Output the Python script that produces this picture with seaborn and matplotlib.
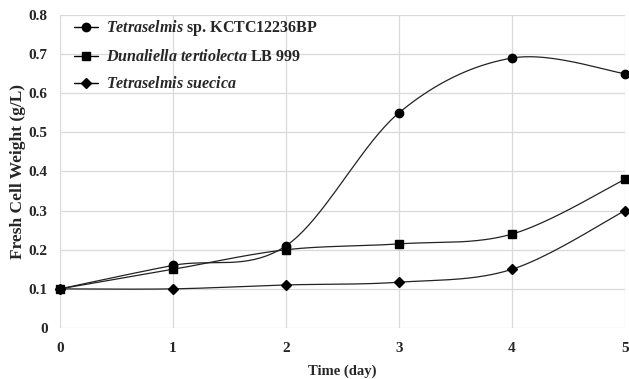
import numpy as np
import pandas as pd
import seaborn as sns
import matplotlib.pyplot as plt
from matplotlib.lines import Line2D

days = [0, 1, 2, 3, 4, 5]
tetra_kctc = [0.10, 0.16, 0.21, 0.55, 0.69, 0.65]
dunaliella = [0.10, 0.15, 0.20, 0.215, 0.24, 0.38]
tetra_suecica = [0.10, 0.10, 0.11, 0.117, 0.15, 0.30]

labels = [r'$\it{Tetraselmis}$ sp. KCTC12236BP',
          r'$\it{Dunaliella\ tertiolecta}$ LB 999',
          r'$\it{Tetraselmis\ suecica}$']
markers = ['o', 's', 'D']
sizes = [6, 5.5, 5.5]


def smooth(x, y, n=40):
    # Excel-style smoothed line: cubic Bezier with Catmull-Rom control points
    x = np.asarray(x, float)
    y = np.asarray(y, float)
    px = np.concatenate([[x[0]], x, [x[-1]]])
    py = np.concatenate([[y[0]], y, [y[-1]]])
    xs, ys = [], []
    t = np.linspace(0, 1, n)
    for i in range(1, len(px) - 2):
        p0 = np.array([px[i], py[i]])
        p3 = np.array([px[i + 1], py[i + 1]])
        p1 = p0 + (np.array([px[i + 1], py[i + 1]]) - np.array([px[i - 1], py[i - 1]])) / 6
        p2 = p3 - (np.array([px[i + 2], py[i + 2]]) - np.array([px[i], py[i]])) / 6
        b = ((1 - t) ** 3)[:, None] * p0 + (3 * (1 - t) ** 2 * t)[:, None] * p1 \
            + (3 * (1 - t) * t ** 2)[:, None] * p2 + (t ** 3)[:, None] * p3
        xs.extend(b[:, 0])
        ys.extend(b[:, 1])
    return xs, ys


sns.set_style('whitegrid')
plt.rcParams['font.family'] = ['Liberation Serif', 'DejaVu Serif']
plt.rcParams['font.weight'] = 'bold'
plt.rcParams['mathtext.fontset'] = 'custom'
plt.rcParams['mathtext.it'] = 'Liberation Serif:italic:bold'
plt.rcParams['mathtext.rm'] = 'Liberation Serif:bold'

fig = plt.figure(figsize=(6.29, 3.79), dpi=100)
ax = fig.add_axes([0.0954, 0.1346, 0.8982, 0.8258])

handles = []
for ys, lab, m, ms in zip([tetra_kctc, dunaliella, tetra_suecica], labels, markers, sizes):
    sx, sy = smooth(days, ys)
    df = pd.DataFrame({'x': sx, 'y': sy})
    sns.lineplot(data=df, x='x', y='y', ax=ax, color='#222222', linewidth=0.9, sort=False, estimator=None)
    ax.plot(days, ys, linestyle='none', marker=m, markersize=ms, color='black', clip_on=False, zorder=5)
    handles.append(Line2D([], [], color='black', linewidth=1.0, marker=m, markersize=ms))

ax.set_xlim(0, 5)
ax.set_ylim(0, 0.8)
ax.set_xticks(range(6))
ax.set_yticks(np.arange(0, 0.81, 0.1))
ax.set_yticklabels(['0'] + ['%.1f' % v for v in np.arange(0.1, 0.81, 0.1)])
ax.grid(True, color='#d9d9d9', linewidth=0.9)
for s in ax.spines.values():
    s.set_visible(False)
ax.tick_params(axis='both', labelsize=11, length=0)
ax.tick_params(axis='y', pad=9)
ax.tick_params(axis='x', pad=10)
for lbl in ax.get_xticklabels() + ax.get_yticklabels():
    lbl.set_fontweight('bold')
ax.set_xlabel('Time (day)', fontsize=10.5, fontweight='bold', labelpad=7)
ax.set_ylabel('Fresh Cell Weight (g/L)', fontsize=12.5, fontweight='bold', labelpad=2)

leg = ax.legend(handles, labels, loc='upper left', bbox_to_anchor=(0.0, 1.035), frameon=False,
                fontsize=11.5, handlelength=1.5, labelspacing=0.68, handletextpad=0.5)

fig.savefig('out.png', dpi=100)
